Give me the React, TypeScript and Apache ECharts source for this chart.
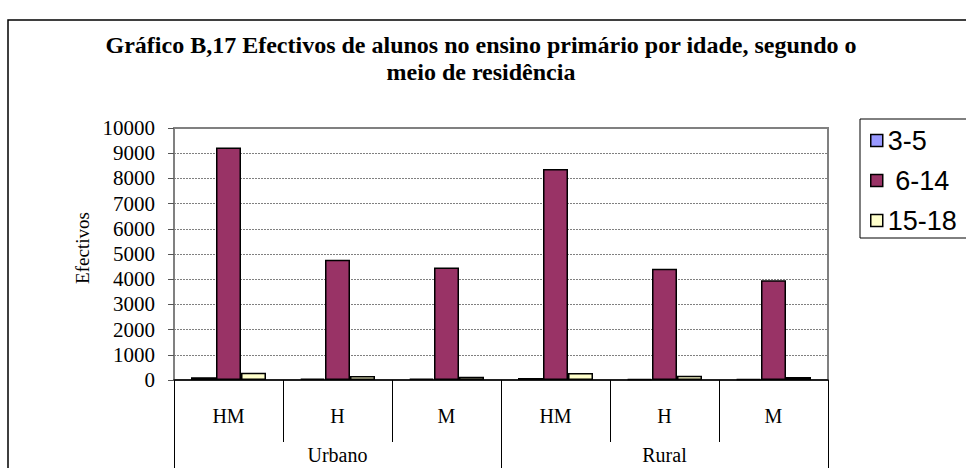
import React, { useEffect, useRef } from "react";
import * as echarts from "echarts";

const subCategories = ["HM", "H", "M", "HM", "H", "M"];
const groups = ["Urbano", "Rural"];
const seriesNames = ["3-5", " 6-14", "15-18"];
const age3to5 = [110, 55, 55, 80, 45, 45];
const age6to14 = [9230, 4770, 4460, 8370, 4410, 3960];
const age15to18 = [290, 160, 130, 280, 170, 120];
const yTicks = { min: 0, max: 10000, interval: 1000 };
const titleLines = [
  "Gráfico B,17 Efectivos de alunos no ensino primário por idade, segundo o",
  "meio de residência",
];
const yName = "Efectivos";

const colors = ["#9999FF", "#993366", "#FFFFCC"];

export default function App() {
  const ref = useRef<HTMLDivElement>(null);
  useEffect(() => {
    if (!ref.current) return;
    const chart = echarts.init(ref.current, undefined, { renderer: "svg" });
    const serif = "Liberation Serif";
    const sans = "Liberation Sans";
    const values = [age3to5, age6to14, age15to18];
    chart.setOption({
      animation: false,
      backgroundColor: "#fff",
      legend: {
        orient: "vertical",
        left: 870,
        top: 127,
        padding: 0,
        itemWidth: 12,
        itemHeight: 12,
        itemGap: 13,
        icon: "rect",
        data: seriesNames,
        textStyle: { fontFamily: sans, fontSize: 27, lineHeight: 27, color: "#000" },
        itemStyle: { borderColor: "#000", borderWidth: 1.5 },
      },
      grid: {
        left: 174,
        right: 138,
        top: 128,
        bottom: 88,
        show: true,
        borderColor: "#808080",
        borderWidth: 2,
        backgroundColor: "transparent",
      },
      graphic: [
        {
          type: "rect",
          shape: { x: 8, y: 20, width: 1100, height: 600 },
          style: { fill: "none", stroke: "#000", lineWidth: 1.5 },
          silent: true,
        },
        {
          type: "rect",
          shape: { x: 860, y: 119, width: 200, height: 119 },
          style: { fill: "none", stroke: "#000", lineWidth: 1 },
          silent: true,
        },
        ...titleLines.map((t, i) => ({
          type: "text",
          x: 481,
          y: 45 + i * 27,
          style: {
            text: t,
            fontFamily: serif,
            fontWeight: "bold",
            fontSize: 24,
            fill: "#000",
            align: "center",
            verticalAlign: "middle",
          },
        })),
        {
          type: "text",
          x: 82,
          y: 248,
          rotation: Math.PI / 2,
          style: {
            text: yName,
            fontFamily: serif,
            fontSize: 19,
            fill: "#000",
            align: "center",
            verticalAlign: "middle",
          },
        },
      ],
      xAxis: [
        {
          type: "category",
          data: subCategories,
          axisLine: { show: true, lineStyle: { color: "#000", width: 1.5 } },
          axisTick: {
            show: true,
            interval: 0,
            length: 62,
            lineStyle: { color: "#000", width: 1 },
          },
          axisLabel: {
            interval: 0,
            margin: 26,
            fontFamily: serif,
            fontSize: 20,
            color: "#000",
          },
          splitLine: { show: false },
        },
        {
          type: "category",
          data: groups,
          position: "bottom",
          axisLine: { show: false },
          axisTick: {
            show: true,
            interval: 0,
            length: 100,
            lineStyle: { color: "#000", width: 1 },
          },
          axisLabel: {
            interval: 0,
            margin: 65,
            fontFamily: serif,
            fontSize: 20,
            color: "#000",
          },
          splitLine: { show: false },
        },
      ],
      yAxis: {
        type: "value",
        min: yTicks.min,
        max: yTicks.max,
        interval: yTicks.interval,
        axisLine: { show: true, lineStyle: { color: "#808080", width: 2 } },
        axisTick: { show: true, length: 6, lineStyle: { color: "#555", width: 1 } },
        axisLabel: {
          margin: 19,
          fontFamily: serif,
          fontSize: 21,
          color: "#000",
          formatter: (v: number) => String(v),
        },
        splitLine: {
          show: true,
          lineStyle: { color: "#808080", width: 1, type: [2, 1] },
        },
      },
      series: seriesNames.map((name, i) => ({
        name,
        type: "bar",
        xAxisIndex: 0,
        data: values[i],
        barWidth: 25,
        barGap: "0%",
        itemStyle: { color: colors[i], borderColor: "#000", borderWidth: 1.5 },
      })),
    });
    return () => chart.dispose();
  }, []);
  return (
    <div
      ref={ref}
      style={{ position: "fixed", left: 0, top: 0, width: 966, height: 468 }}
    />
  );
}
